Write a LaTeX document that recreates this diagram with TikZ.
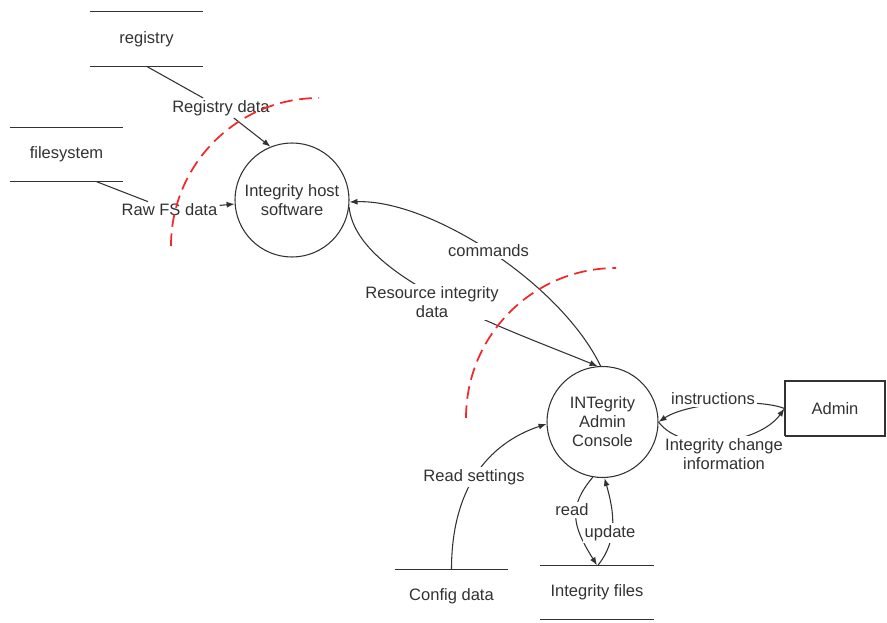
\documentclass[tikz,border=0pt]{standalone}
\usepackage{fontspec}
\setmainfont{Liberation Sans}
\usepackage{xcolor}
\usepackage{tikz}
\usetikzlibrary{arrows.meta}

\definecolor{dfdink}{RGB}{50,50,50}
\definecolor{dfdred}{RGB}{240,40,40}

\begin{document}
\begin{tikzpicture}[x=0.75pt,y=0.75pt,yscale=-1,xscale=1,
  every node/.style={font=\fontsize{12.4}{14.25}\selectfont,text=dfdink},
  process/.style={draw=dfdink,line width=0.8pt,circle,inner sep=0pt,align=center,minimum size=#1},
  datastore/.style={inner sep=0pt,minimum width=84.75pt,minimum height=40.5pt},
  terminator/.style={draw=dfdink,line width=0.8pt,minimum width=75pt,minimum height=41.25pt},
  flowlabel/.style={fill=white,inner sep=1.5pt,align=center},
  dataflow/.style={draw=dfdink,line width=0.8pt,-{Latex[length=6pt,width=4.5pt]}},
  trustline/.style={draw=dfdred,line width=1.3pt,dash pattern=on 9.5pt off 5pt}
]
\useasboundingbox (0,0) rectangle (887,623);

%Shape: Data stores
\node[datastore] (registry) at (146.5,39) {registry};
\node[datastore] (filesystem) at (66.5,154.5) {filesystem};
\node[datastore] (config) at (451.5,596.5) {Config data};
\node[datastore] (files) at (597,592.5) {Integrity files};
\draw[dfdink,line width=0.8pt] (registry.north west) -- (registry.north east) (registry.south west) -- (registry.south east);
\draw[dfdink,line width=0.8pt] (filesystem.north west) -- (filesystem.north east) (filesystem.south west) -- (filesystem.south east);
\draw[dfdink,line width=0.8pt] (config.north west) -- (config.north east);
\draw[dfdink,line width=0.8pt] (files.north west) -- (files.north east) (files.south west) -- (files.south east);

%Shape: Circle
\node[process=85.5pt] (host) at (292,200) {Integrity host\\software};
%Shape: Circle
\node[process=83.25pt] (console) at (602.5,422) {INTegrity\\Admin\\Console};
%Shape: Rectangle
\node[terminator] (admin) at (835,408.5) {Admin};

% Text Node
\node[flowlabel] (reglbl) at (221,108) {Registry data};
% Text Node
\node[flowlabel] (fslbl) at (169.5,210) {Raw FS data};

%Straight Lines
\draw[dataflow] (registry.south) -- (reglbl) -- (host.112);
\draw[dataflow] (filesystem.-42) -- (fslbl) -- (host.184);

%Curve Lines
\draw[dataflow] (console.92) .. controls +(-40,-83) and +(80,-3) .. (host.-2);
\draw[dataflow] (host.-7) .. controls +(7,70) and +(-98,-40) .. (console.95);
\draw[dataflow] (config.north) .. controls +(0,-79) and +(-60,20) .. (console.182);
\draw[dataflow] (console.260) .. controls +(-25,30) and +(-25,-40) .. (files.north);
\draw[dataflow] (files.88) .. controls +(20,-25) and +(10,35) .. (console.272);
\draw[dataflow] (admin.west) .. controls +(-25,-10) and +(30,-20) .. (console.east);
\draw[dataflow] (console.east) .. controls +(25,33) and +(-25,35) .. (admin.west);

% Text Node
\node[flowlabel] (cmdlbl) at (488.5,251) {commands};
% Text Node
\node[flowlabel] (reslbl) at (432,302) {Resource integrity\\data};
% Text Node
\node[flowlabel] (setlbl) at (474,477) {Read settings};
% Text Node
\node[flowlabel] (readlbl) at (572,510) {read};
% Text Node
\node[flowlabel] (updlbl) at (610,533) {update};
% Text Node
\node[flowlabel] (inslbl) at (713,399) {instructions};
% Text Node
\node[flowlabel] (chglbl) at (724,454) {Integrity change\\information};

%Trust boundaries
\draw[trustline] (171,246) arc[start angle=180,end angle=270,radius=148];
\draw[trustline] (466,418) arc[start angle=180,end angle=270,radius=150];

\end{tikzpicture}
\end{document}
